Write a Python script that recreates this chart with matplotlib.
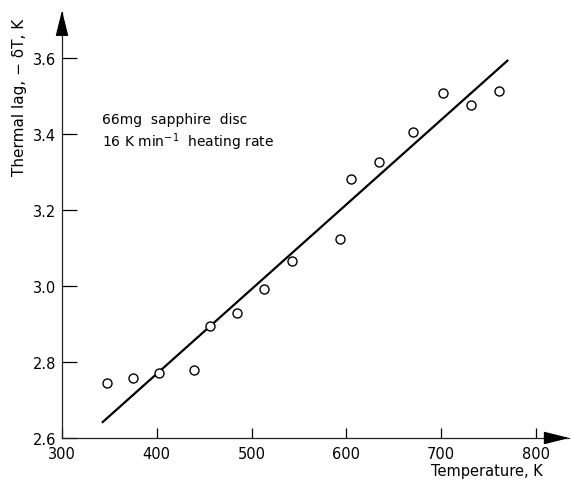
import numpy as np
import matplotlib.pyplot as plt

# measured points (temperature K, thermal lag K)
temp = [347, 375, 402, 439, 456, 485, 513, 543, 593, 605, 635, 670, 702, 732, 761]
lag = [2.745, 2.758, 2.771, 2.779, 2.895, 2.929, 2.992, 3.066, 3.124, 3.280,
       3.326, 3.405, 3.508, 3.476, 3.513]
# fitted line end points
fit_t = [343, 770]
fit_lag = [2.642, 3.592]

xticks = [300, 400, 500, 600, 700, 800]
yticks = [2.6, 2.8, 3.0, 3.2, 3.4, 3.6]

plt.rcParams['font.family'] = 'DejaVu Sans'
fig = plt.figure(figsize=(5.72, 4.81), dpi=100)
ax = fig.add_axes([62/572, 42/481, 507/572, 426/481])

ax.plot(fit_t, fit_lag, color='k', lw=1.6)
ax.plot(temp, lag, 'o', mfc='white', mec='k', ms=6.5, mew=1.0)

ax.set_xlim(300, 835)
ax.set_ylim(2.6, 3.72)
ax.spines['top'].set_visible(False)
ax.spines['right'].set_visible(False)
for s in ['left', 'bottom']:
    ax.spines[s].set_linewidth(0.9)
    ax.spines[s].set_color('#222222')

ax.set_xticks(xticks)
ax.set_yticks(yticks)
ax.set_yticklabels(['%.1f' % v for v in yticks])
ax.tick_params(axis='y', direction='in', length=11, width=0.9, labelsize=10.5, pad=4)
ax.tick_params(axis='x', direction='in', length=7, width=0.9, labelsize=10.5, pad=6)

# arrow heads on the axes
ax.annotate('', xy=(1.006, 0), xytext=(0.95, 0), xycoords='axes fraction',
            arrowprops=dict(arrowstyle='-|>,head_length=1.6,head_width=0.4',
                            color='k', lw=0.9))
ax.annotate('', xy=(0, 1.01), xytext=(0, 0.94), xycoords='axes fraction',
            arrowprops=dict(arrowstyle='-|>,head_length=1.6,head_width=0.4',
                            color='k', lw=0.9))

ax.text(342, 3.44, '66mg  sapphire  disc', fontsize=10, va='center')
ax.text(342, 3.38, '16 K min$^{-1}$  heating rate', fontsize=10, va='center')

fig.text(20/572, 1 - 97/481, 'Thermal lag, − δT, K', rotation=90,
         ha='center', va='center', fontsize=11)
fig.text(487/572, 1 - 472/481, 'Temperature, K', ha='center', va='center',
         fontsize=10.5)

fig.savefig('out.png', dpi=100)
